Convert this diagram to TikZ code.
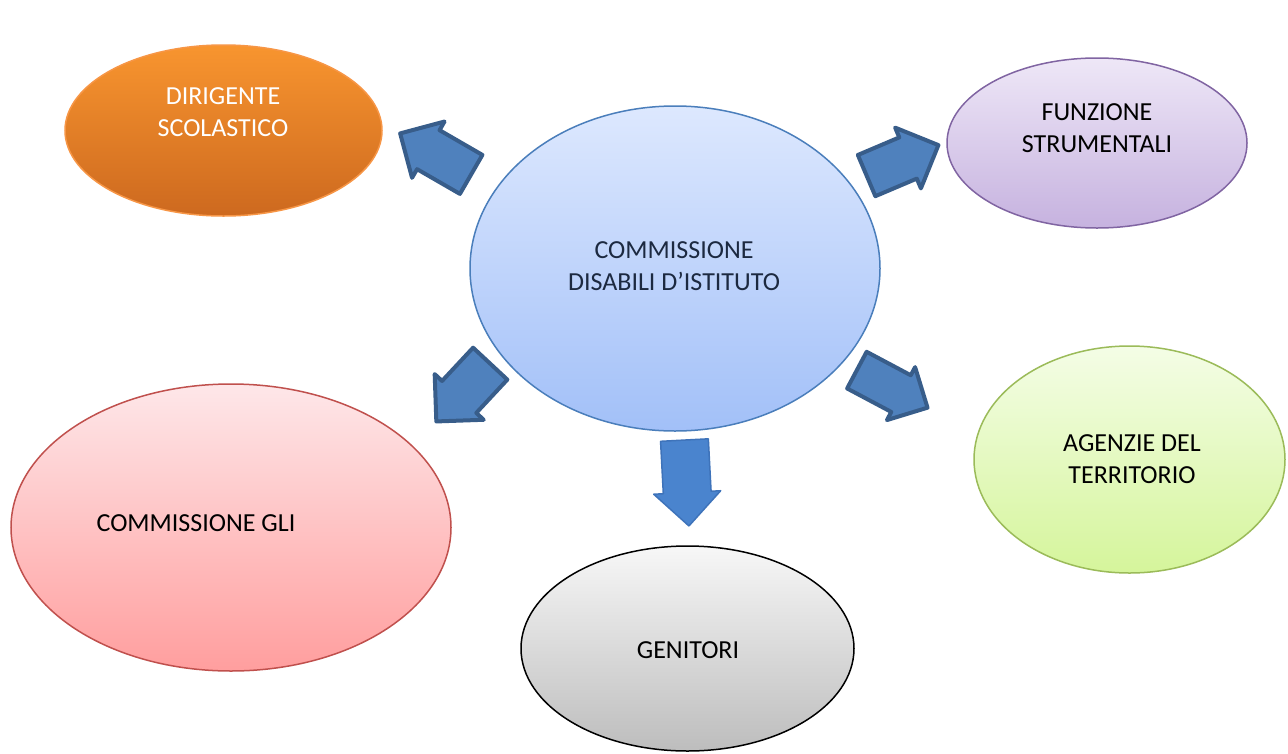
\documentclass[tikz,border=0pt]{standalone}
\usepackage{fontspec}
\setmainfont{Carlito}
\usetikzlibrary{shapes.geometric,shapes.arrows}

\definecolor{dirtop}{HTML}{F8952F}
\definecolor{dirbot}{HTML}{CD691F}
\definecolor{dirline}{HTML}{F79646}
\definecolor{funtop}{HTML}{EEE7F7}
\definecolor{funbot}{HTML}{C6B2DF}
\definecolor{funline}{HTML}{8064A2}
\definecolor{comtop}{HTML}{DDE8FE}
\definecolor{combot}{HTML}{A2C0F8}
\definecolor{comline}{HTML}{4A7EBB}
\definecolor{comtext}{HTML}{1C2940}
\definecolor{agetop}{HTML}{F4FDE6}
\definecolor{agebot}{HTML}{D5F59B}
\definecolor{ageline}{HTML}{9BBB59}
\definecolor{glitop}{HTML}{FEE7E9}
\definecolor{glibot}{HTML}{FF9E9E}
\definecolor{gliline}{HTML}{C0504D}
\definecolor{gentop}{HTML}{F7F7F7}
\definecolor{genbot}{HTML}{BDBDBD}
\definecolor{arrfill}{HTML}{4F81BD}
\definecolor{arrline}{HTML}{385D8A}
\definecolor{sketchfill}{HTML}{4A84CE}
\definecolor{sketchline}{HTML}{3E73BA}

\begin{document}
\begin{tikzpicture}[
        x=1pt, y=-1pt,
        every node/.style={font=\fontsize{26}{32}\selectfont, align=center},
        bubble/.style={ellipse, draw, line width=1.5pt, inner sep=0pt},
        dirn/.style={bubble, draw=dirline, top color=dirtop, bottom color=dirbot},
        funn/.style={bubble, draw=funline, top color=funtop, bottom color=funbot},
        comn/.style={bubble, draw=comline, top color=comtop, bottom color=combot},
        agen/.style={bubble, draw=ageline, top color=agetop, bottom color=agebot},
        glin/.style={bubble, draw=gliline, top color=glitop, bottom color=glibot},
        genn/.style={bubble, draw=black, top color=gentop, bottom color=genbot},
        bigarrow/.style={single arrow, anchor=tip, draw=arrline, fill=arrfill,
            line width=4pt, line join=round, inner xsep=0pt,
            text height=0pt, text depth=0pt, single arrow head indent=0pt},
        sketcharrow/.style={bigarrow, draw=sketchline, fill=sketchfill, line width=1.5pt},
    ]
    \fill[white] (0,0) rectangle (1288,753);
    \useasboundingbox (0,0) rectangle (1288,753);

    % bubbles
    \node[comn, minimum width=410pt, minimum height=325pt](com) at (675,268.5){};
    \node[dirn, minimum width=317pt, minimum height=171pt](dir) at (223.5,130.5){};
    \node[funn, minimum width=300pt, minimum height=170pt](fun) at (1097,143){};
    \node[agen, minimum width=311pt, minimum height=227pt](age) at (1129.5,459.5){};
    \node[glin, minimum width=440pt, minimum height=287pt](gli) at (231,527.5){};
    \node[genn, minimum width=333pt, minimum height=205pt](gen) at (687.5,648.5){};

    % texts
    \node[text=comtext](com-t) at (674,266){COMMISSIONE\\DISABILI D'ISTITUTO};
    \node[text=white](dir-t) at (223,112.5){DIRIGENTE\\SCOLASTICO};
    \node(fun-t) at (1097,128){FUNZIONE\\STRUMENTALI};
    \node(age-t) at (1132,459){AGENZIE DEL\\TERRITORIO};
    \node(gli-t) at (196,523.5){COMMISSIONE GLI};
    \node(gen-t) at (688,650){GENITORI};

    % arrows
    \node[bigarrow, rotate=150, minimum height=82pt, minimum width=65pt, inner ysep=14pt](a-dir) at (397.7,132){};
    \node[bigarrow, rotate=23, minimum height=78pt, minimum width=66pt, inner ysep=13pt](a-fun) at (941,144){};
    \node[bigarrow, rotate=227, minimum height=79pt, minimum width=67pt, inner ysep=14.5pt](a-gli) at (434.4,423.5){};
    \node[bigarrow, rotate=-28, minimum height=80pt, minimum width=60pt, inner ysep=14pt](a-age) at (930,409){};
    \node[sketcharrow, rotate=-87, minimum height=86pt, minimum width=67pt, inner ysep=17pt](a-gen) at (689,527){};
\end{tikzpicture}
\end{document}
